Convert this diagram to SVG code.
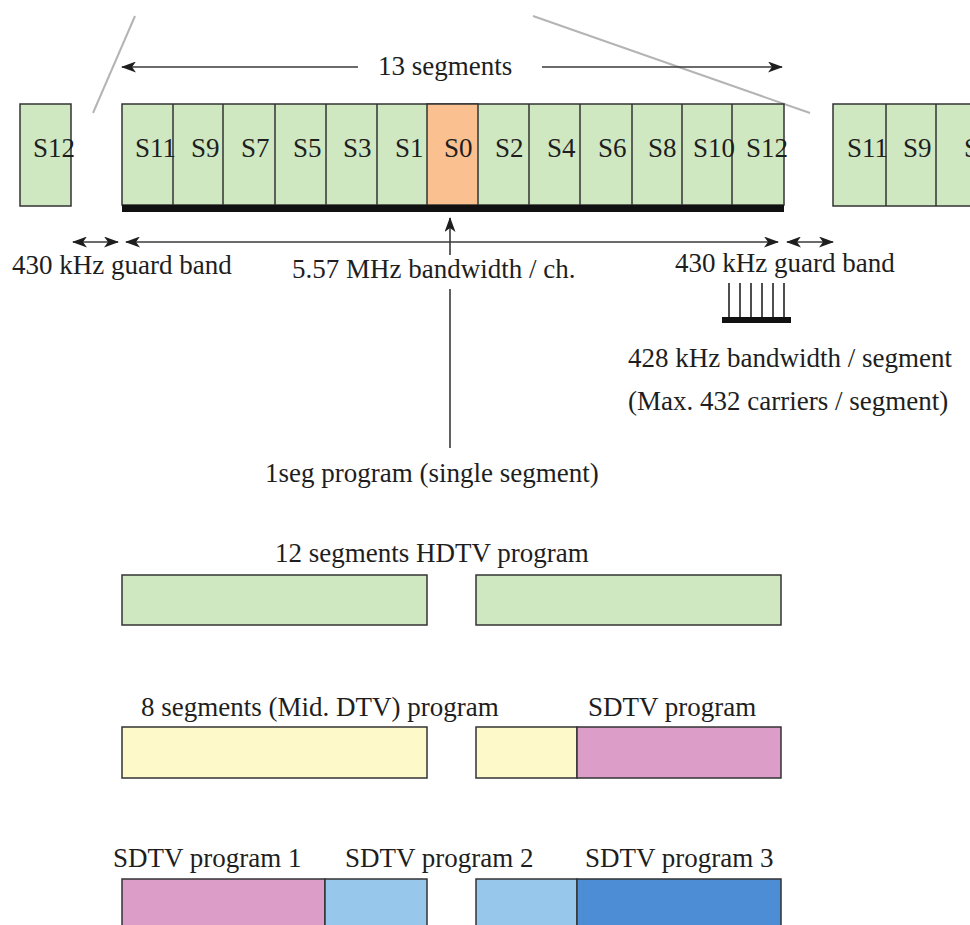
<svg xmlns="http://www.w3.org/2000/svg" width="970" height="925" viewBox="0 0 970 925">
<defs>
<style>
text{font-family:"Liberation Serif","Times New Roman",serif;font-size:27px;fill:#1e1e1e}
.seg{stroke:#333;stroke-width:1.5}
.g{fill:#cfe8c2}
.o{fill:#fbc08f}
.y{fill:#fdf9c9}
.p{fill:#dc9dc9}
.lb{fill:#98c7ec}
.db{fill:#4d8dd5}
.ln{stroke:#3a3a3a;stroke-width:1.6;fill:none}
.diag{stroke:#b4b4b4;stroke-width:2;fill:none}
</style>
<marker id="ah" viewBox="0 0 15 11" refX="14" refY="5.5" markerWidth="15" markerHeight="11" markerUnits="userSpaceOnUse" orient="auto-start-reverse">
<path d="M0,0 L15,5.5 L0,11 L4,5.5 z" fill="#1e1e1e"/>
</marker>
</defs>
<rect width="970" height="925" fill="#fff"/>

<g id="zoom-lines">
<line class="diag" x1="135" y1="16" x2="93" y2="113"/>
<line class="diag" x1="533" y1="16" x2="810" y2="113"/>
</g>

<g id="channel-left">
<rect class="seg g" x="20" y="104" width="51" height="102"/>
<text x="33" y="157">S12</text>
</g>

<g id="channel-main">
<rect class="seg g" x="122" y="104" width="662" height="101"/>
<rect class="seg o" x="427" y="104" width="51" height="101"/>
<g class="seg">
<line x1="173" y1="104" x2="173" y2="205"/>
<line x1="223" y1="104" x2="223" y2="205"/>
<line x1="275" y1="104" x2="275" y2="205"/>
<line x1="326" y1="104" x2="326" y2="205"/>
<line x1="377" y1="104" x2="377" y2="205"/>
<line x1="529" y1="104" x2="529" y2="205"/>
<line x1="580" y1="104" x2="580" y2="205"/>
<line x1="632" y1="104" x2="632" y2="205"/>
<line x1="682" y1="104" x2="682" y2="205"/>
<line x1="732" y1="104" x2="732" y2="205"/>
</g>
<rect x="122" y="205" width="662" height="7" fill="#111"/>
<text x="135" y="157">S11</text>
<text x="191" y="157">S9</text>
<text x="241" y="157">S7</text>
<text x="293" y="157">S5</text>
<text x="343" y="157">S3</text>
<text x="395" y="157">S1</text>
<text x="444" y="157">S0</text>
<text x="495" y="157">S2</text>
<text x="547" y="157">S4</text>
<text x="598" y="157">S6</text>
<text x="648" y="157">S8</text>
<text x="693" y="157">S10</text>
<text x="746" y="157">S12</text>
</g>

<g id="channel-right">
<rect class="seg g" x="833" y="104" width="160" height="102"/>
<line class="seg" x1="886" y1="104" x2="886" y2="206"/>
<line class="seg" x1="936" y1="104" x2="936" y2="206"/>
<text x="847" y="157">S11</text>
<text x="903" y="157">S9</text>
<text x="964" y="157">S7</text>
</g>

<g id="connectors">
<line class="ln" x1="358" y1="67" x2="122" y2="67" marker-end="url(#ah)"/>
<line class="ln" x1="542" y1="67" x2="782" y2="67" marker-end="url(#ah)"/>
<line class="ln" x1="73" y1="242" x2="118" y2="242" marker-start="url(#ah)" marker-end="url(#ah)"/>
<line class="ln" x1="126" y1="242" x2="778" y2="242" marker-start="url(#ah)" marker-end="url(#ah)"/>
<line class="ln" x1="787" y1="242" x2="833" y2="242" marker-start="url(#ah)" marker-end="url(#ah)"/>
<line class="ln" x1="450" y1="448" x2="450" y2="289"/>
<line class="ln" x1="450" y1="255" x2="450" y2="218" marker-end="url(#ah)"/>
</g>

<g id="labels-top">
<text x="378" y="75">13 segments</text>
<text x="12" y="274">430 kHz guard band</text>
<text x="292" y="278">5.57 MHz bandwidth / ch.</text>
<text x="675" y="272">430 kHz guard band</text>
</g>

<g id="carrier-comb" stroke="#222" stroke-width="1.6">
<line x1="729" y1="283" x2="729" y2="318"/>
<line x1="740" y1="283" x2="740" y2="318"/>
<line x1="751" y1="283" x2="751" y2="318"/>
<line x1="762" y1="283" x2="762" y2="318"/>
<line x1="773" y1="283" x2="773" y2="318"/>
<line x1="784" y1="283" x2="784" y2="318"/>
<rect x="722" y="317" width="69" height="6" fill="#111" stroke="none"/>
</g>

<g id="segment-info">
<text x="628" y="367">428 kHz bandwidth / segment</text>
<text x="628" y="410">(Max. 432 carriers / segment)</text>
</g>

<g id="oneseg">
<text x="265" y="482">1seg program (single segment)</text>
</g>

<g id="row-hdtv">
<text x="275" y="562">12 segments HDTV program</text>
<rect class="seg g" x="122" y="575" width="305" height="50"/>
<rect class="seg g" x="476" y="575" width="305" height="50"/>
</g>

<g id="row-mid">
<text x="141" y="716">8 segments (Mid. DTV) program</text>
<text x="588" y="716">SDTV program</text>
<rect class="seg y" x="122" y="727" width="305" height="51"/>
<rect class="seg y" x="476" y="727" width="101" height="51"/>
<rect class="seg p" x="577" y="727" width="204" height="51"/>
</g>

<g id="row-sdtv">
<text x="113" y="867">SDTV program 1</text>
<text x="345" y="867">SDTV program 2</text>
<text x="585" y="867">SDTV program 3</text>
<rect class="seg p" x="122" y="879" width="203" height="60"/>
<rect class="seg lb" x="325" y="879" width="102" height="60"/>
<rect class="seg lb" x="476" y="879" width="101" height="60"/>
<rect class="seg db" x="577" y="879" width="204" height="60"/>
</g>
</svg>
